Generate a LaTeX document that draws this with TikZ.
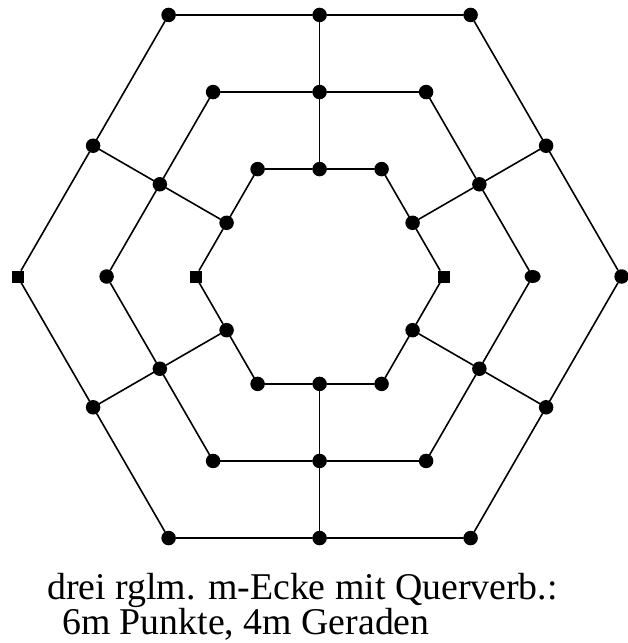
\documentclass[tikz,border=0pt]{standalone}
\usepackage{fontspec}
\setmainfont{Liberation Serif}
\usetikzlibrary{calc,shapes.geometric}
\begin{document}
\begin{tikzpicture}[x=1pt,y=-1pt,
  dot/.style={circle,fill=black,inner sep=0pt,minimum size=14.5pt},
  sqdot/.style={rectangle,fill=black,inner sep=0pt,minimum size=12pt},
  elldot/.style={ellipse,fill=black,inner sep=0pt,minimum width=16pt,minimum height=13pt},
  edgeline/.style={line width=1.6pt,line cap=round},
  lbl/.style={anchor=base west,inner sep=0pt,font=\fontsize{37.8}{45}\selectfont}]
\useasboundingbox (0,0) rectangle (628,643);
\coordinate (O) at (319.6,276.5);
% vertices and midpoints of the three hexagons
\foreach \r/\R in {a/302,b/213,c/124}{
  \foreach \k in {1,2,4,5}{
    \node[dot] (\r v\k) at ($(O)+(\k*60:\R)$) {};
  }
  \foreach \k in {0,...,5}{
    \node[dot] (\r m\k) at ($(O)+(\k*60+30:{\R*0.8660254})$) {};
  }
}
\node[dot]    (av0) at ($(O)+(0:302)$) {};
\node[sqdot]  (av3) at ($(O)+(180:302)$) {};
\node[elldot] (bv0) at ($(O)+(0:213)$) {};
\node[dot]    (bv3) at ($(O)+(180:213)$) {};
\node[sqdot]  (cv0) at ($(O)+(0:124)$) {};
\node[sqdot]  (cv3) at ($(O)+(180:124)$) {};
% hexagon edges
\foreach \r in {a,b,c}{
  \foreach \k/\n in {0/1,1/2,2/3,3/4,4/5,5/0}{
    \draw[edgeline] (\r v\k) -- (\r m\k) -- (\r v\n);
  }
}
% cross connections
\foreach \k in {0,...,5}{
  \draw[edgeline] (am\k) -- (bm\k) -- (cm\k);
}
\node[lbl] (t1) at (47,599) {drei rglm. m-Ecke mit Querverb.:};
\node[lbl] (t2) at (62,634) {6m Punkte, 4m Geraden};
\end{tikzpicture}
\end{document}
